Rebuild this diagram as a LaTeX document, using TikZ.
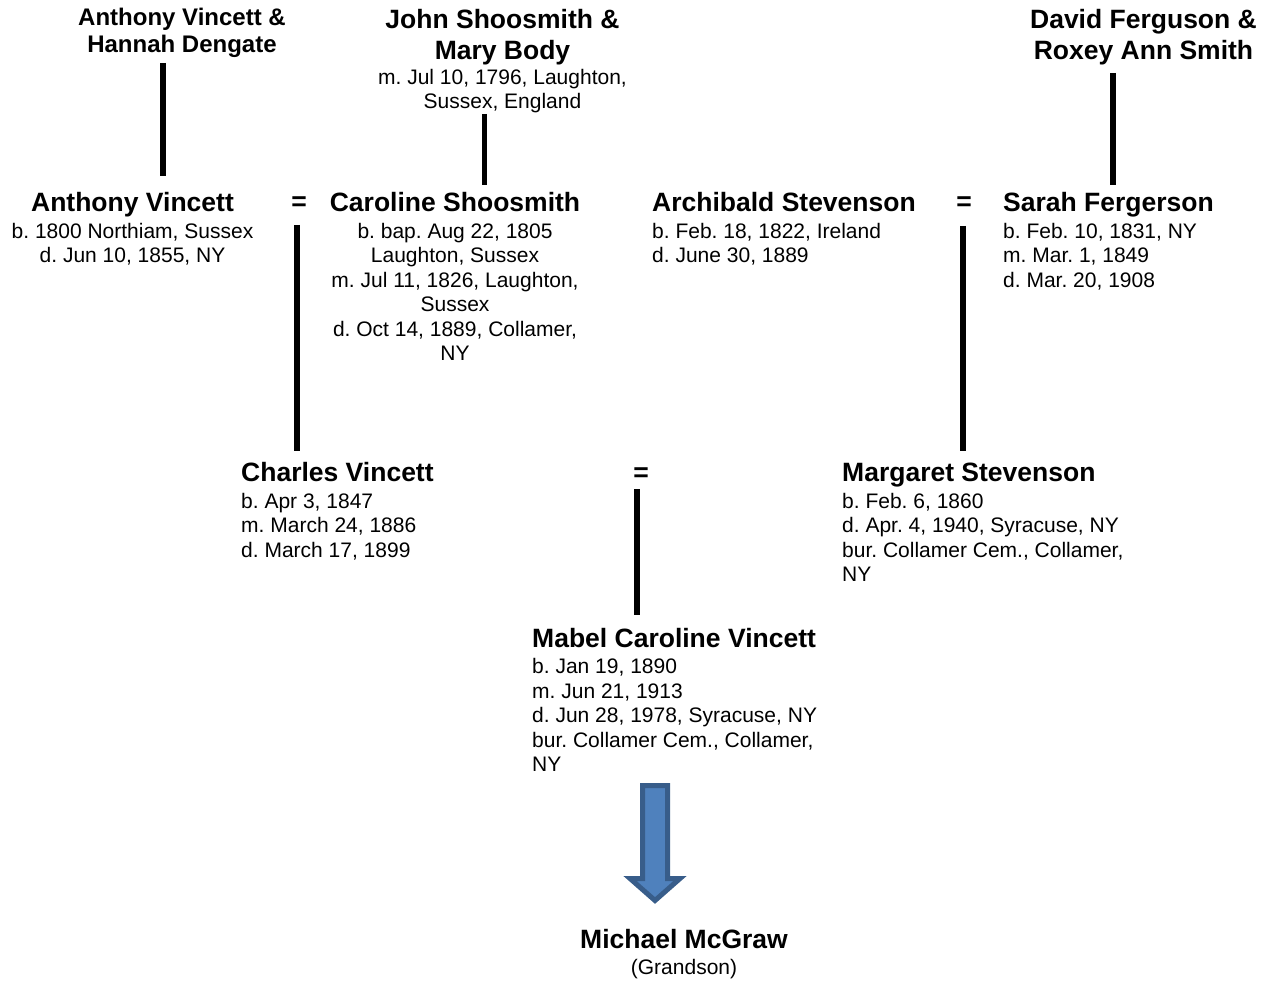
\documentclass[tikz,border=0pt]{standalone}
\usepackage{fontspec}
\setmainfont{Liberation Sans}
\frenchspacing
\definecolor{arrfill}{HTML}{4F81BD}
\definecolor{arrline}{HTML}{385D8A}
\newcommand\nm[1]{{\bfseries\fontsize{26.5}{30}\selectfont #1}}
\newcommand\blockc[1]{\begin{tabular}[t]{@{}c@{}}#1\end{tabular}}
\newcommand\blockl[1]{\begin{tabular}[t]{@{}l@{}}#1\end{tabular}}
\tikzset{
  person/.style={inner sep=0pt, font=\frenchspacing\fontsize{21}{24.5}\selectfont},
  couple/.style={inner sep=0pt, font=\bfseries\fontsize{26.5}{31}\selectfont},
  eqsign/.style={inner sep=0pt, font=\bfseries\fontsize{26.5}{30}\selectfont},
  link/.style={line width=5.5pt},
  bigarrow/.style={draw=arrline, fill=arrfill, line width=5pt, line join=miter},
}
\begin{document}
\begin{tikzpicture}[x=1pt,y=-1pt]
\useasboundingbox (0,0) rectangle (1264,981);

% top-row couples
\node[couple, anchor=base, font=\bfseries\fontsize{24}{27}\selectfont] (avhd) at (182,25.5)
  {\blockc{Anthony Vincett \&\\Hannah Dengate}};
\node[couple, anchor=base] (jsmb) at (502.5,28.5) {\blockc{John Shoosmith \&\\Mary Body}};
\node[person, anchor=base] (jsmbm) at (502.5,84.5) {\blockc{m. Jul 10, 1796, Laughton,\\Sussex, England}};
\node[couple, anchor=base] (dfrs) at (1143.5,28.5) {\blockc{David Ferguson \&\\Roxey Ann Smith}};

% second generation
\node[person, anchor=base] (av) at (132.5,212)
  {\blockc{\nm{Anthony Vincett}\\[2pt]b. 1800 Northiam, Sussex\\d. Jun 10, 1855, NY}};
\node[eqsign] (eq1) at (299,204) {=};
\node[person, anchor=base] (cs) at (455,212)
  {\blockc{\nm{Caroline Shoosmith}\\[2pt]b. bap. Aug 22, 1805\\Laughton, Sussex\\m. Jul 11, 1826, Laughton,\\Sussex\\d. Oct 14, 1889, Collamer,\\NY}};
\node[person, anchor=base west] (as) at (652,212)
  {\blockl{\nm{Archibald Stevenson}\\[2pt]b. Feb. 18, 1822, Ireland\\d. June 30, 1889}};
\node[eqsign] (eq2) at (964,204) {=};
\node[person, anchor=base west] (sf) at (1003,212)
  {\blockl{\nm{Sarah Fergerson}\\[2pt]b. Feb. 10, 1831, NY\\m. Mar. 1, 1849\\d. Mar. 20, 1908}};

% third generation
\node[person, anchor=base west] (cv) at (241,482)
  {\blockl{\nm{Charles Vincett}\\[2pt]b. Apr 3, 1847\\m. March 24, 1886\\d. March 17, 1899}};
\node[eqsign] (eq3) at (641,475) {=};
\node[person, anchor=base west] (ms) at (842,482)
  {\blockl{\nm{Margaret Stevenson}\\[2pt]b. Feb. 6, 1860\\d. Apr. 4, 1940, Syracuse, NY\\bur. Collamer Cem., Collamer,\\NY}};

% fourth generation
\node[person, anchor=base west] (mcv) at (532,647)
  {\blockl{\nm{Mabel Caroline Vincett}\\[2pt]b. Jan 19, 1890\\m. Jun 21, 1913\\d. Jun 28, 1978, Syracuse, NY\\bur. Collamer Cem., Collamer,\\NY}};
\node[person, anchor=base] (mm) at (684,948)
  {\blockc{\nm{Michael McGraw}\\[2pt](Grandson)}};

% connector end points
\coordinate (avhd-d) at (163,63);   \coordinate (av-u) at (163,176);
\coordinate (jsmb-d) at (484.5,114); \coordinate (cs-u) at (484.5,185);
\coordinate (dfrs-d) at (1113,73);  \coordinate (sf-u) at (1113,185);
\coordinate (eq1-d) at (297,225);   \coordinate (cv-u) at (297,451);
\coordinate (eq2-d) at (963,226);   \coordinate (ms-u) at (963,451);
\coordinate (eq3-d) at (637,489);   \coordinate (mcv-u) at (637,615);

\draw[link] (avhd-d) -- (av-u);
\draw[link] (jsmb-d) -- (cs-u);
\draw[link] (dfrs-d) -- (sf-u);
\draw[link] (eq1-d) -- (cv-u);
\draw[link] (eq2-d) -- (ms-u);
\draw[link] (eq3-d) -- (mcv-u);

% block arrow from Mabel to Michael
\path[bigarrow] (642.5,785.5) -- (667.5,785.5) -- (667.5,878.5) -- (680,878.5)
  -- (655,900.5) -- (630,878.5) -- (642.5,878.5) -- cycle;
\end{tikzpicture}
\end{document}
